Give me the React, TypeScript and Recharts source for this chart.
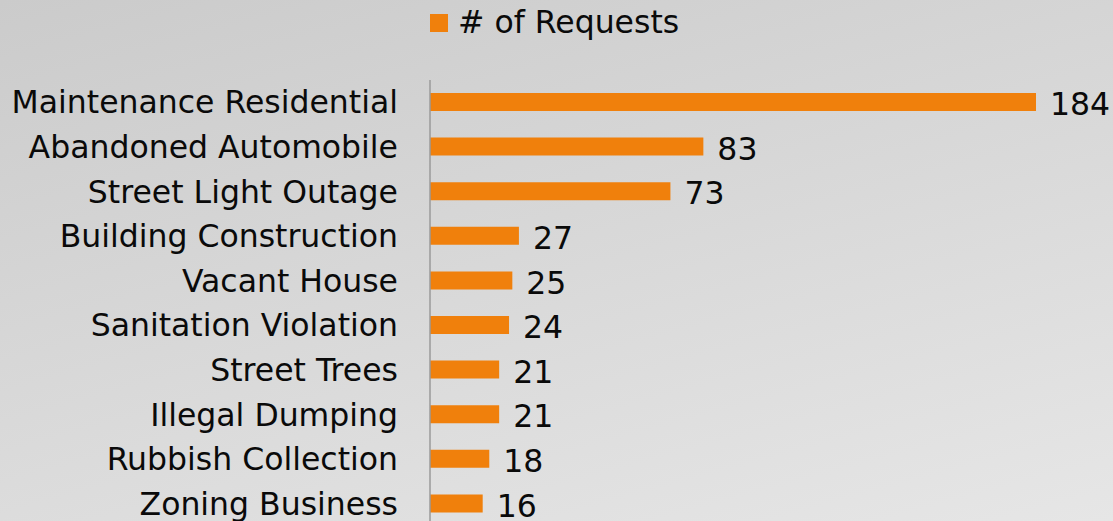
import React from "react";
import { BarChart, Bar, XAxis, YAxis, Legend, LabelList } from "recharts";

const categories = [
  "Maintenance Residential",
  "Abandoned Automobile",
  "Street Light Outage",
  "Building Construction",
  "Vacant House",
  "Sanitation Violation",
  "Street Trees",
  "Illegal Dumping",
  "Rubbish Collection",
  "Zoning Business",
];
const requests = [184, 83, 73, 27, 25, 24, 21, 21, 18, 16];

const data = categories.map((name, i) => ({ name, requests: requests[i] }));

const FONT = "'DejaVu Sans', Verdana, sans-serif";
const ORANGE = "#f0800c";

function LegendBox() {
  return (
    <div style={{ height: 40, display: "flex", alignItems: "center", paddingLeft: 430, fontFamily: FONT }}>
      <span style={{ width: 18, height: 18, background: ORANGE, display: "inline-block", marginTop: 5 }} />
      <span style={{ fontSize: 31.5, color: "#0a0a0a", marginLeft: 10, marginTop: 4 }}># of Requests</span>
    </div>
  );
}

export default function App() {
  return (
    <div
      style={{
        position: "absolute",
        left: 0,
        top: 0,
        width: 1113,
        height: 521,
        overflow: "hidden",
        background: "linear-gradient(165deg, #cbcbcb 0%, #e6e6e6 100%)",
      }}
    >
      <BarChart
        width={1113}
        height={526}
        data={data}
        layout="vertical"
        margin={{ top: 40, right: 77, bottom: 0, left: 0 }}
      >
        <Legend
          verticalAlign="top"
          content={() => <LegendBox />}
          wrapperStyle={{ top: 0, left: 0, width: 1113 }}
        />
        <XAxis type="number" domain={[0, 184]} hide />
        <YAxis
          type="category"
          dataKey="name"
          width={430}
          tickLine={false}
          tickSize={0}
          tickMargin={32}
          axisLine={{ stroke: "#9a9a9a", strokeWidth: 1.5 }}
          tick={{ fontSize: 31.5, fill: "#0a0a0a", fontFamily: FONT }}
          interval={0}
        />
        <Bar dataKey="requests" fill={ORANGE} barSize={18} isAnimationActive={false}>
          <LabelList
            dataKey="requests"
            position="right"
            offset={14}
            dy={2}
            style={{ fontSize: 31.5, fill: "#0a0a0a", fontFamily: FONT }}
          />
        </Bar>
      </BarChart>
    </div>
  );
}
